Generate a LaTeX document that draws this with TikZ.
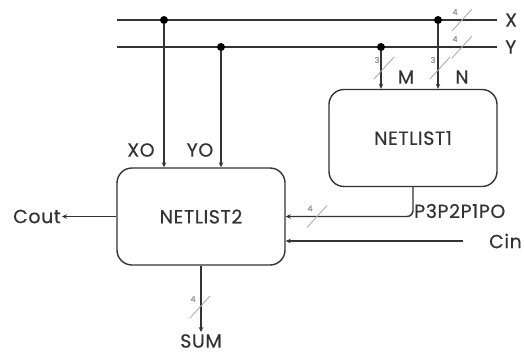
\documentclass[tikz,border=0pt]{standalone}
\usepackage{fontspec}
\setmainfont{Poppins}[LetterSpace=3,FakeBold=0.4]
\usepackage{tikz}
\usetikzlibrary{arrows.meta, positioning, calc}

\begin{document}
\begin{tikzpicture}[
    x=1pt,
    y=-1pt,
    wire/.style={draw=black!80, line width=1.4pt},
    arrowwire/.style={wire, -{Stealth[length=5pt,width=4.5pt]}},
    netbox/.style={rectangle, draw=black!80, line width=1.4pt, rounded corners=15pt, minimum width=168pt, minimum height=97pt, font=\fontsize{19}{21}\selectfont, text=black!80},
    sig/.style={font=\fontsize{19}{21}\selectfont, text=black!80, inner sep=1pt},
    dot/.style={circle, fill=black, inner sep=0pt, minimum size=8pt},
    busslash/.style={draw=black!35, line width=0.8pt},
    buslabel/.style={font=\fontsize{8}{9}\selectfont, text=black!45, inner sep=0pt}
]
\useasboundingbox (0,0) rectangle (524,356);

% Blocks
\node [netbox] (netA) at (413,138) {NETLIST1};
\node [netbox] (netB) at (201,216.5) {NETLIST2};

% X and Y buses
\coordinate (xl) at (117,20);
\coordinate (xr) at (497,20);
\coordinate (yl) at (117,47);
\coordinate (yr) at (497,47);
\draw [wire] (xl) -- (xr);
\draw [wire] (yl) -- (yr);
\node [sig, anchor=west] (xlab) at (504,20) {X};
\node [sig, anchor=west] (ylab) at (504,47) {Y};

% Taps
\node [dot] (xa) at (164,20) {};
\node [dot] (xb) at (438,20) {};
\node [dot] (ya) at (221,47) {};
\node [dot] (yb) at (381,47) {};
\draw [arrowwire] (xa) -- (xa |- netB.north);
\draw [arrowwire] (ya) -- (ya |- netB.north);
\draw [arrowwire] (yb) -- (yb |- netA.north);
\draw [arrowwire] (xb) -- (xb |- netA.north);
\node [sig] (xo) at (141,150) {XO};
\node [sig] (yo) at (200,150) {YO};
\node [sig] (mlab) at (406,77) {M};
\node [sig] (nlab) at (462,77) {N};

% NETLIST1 to NETLIST2
\draw [arrowwire, rounded corners=6pt] (netA.south) |- (netB.east);
\node [sig, anchor=west] (plab) at (413,211) {P3P2P1PO};

% Carry in and out
\coordinate (cin) at (463,241);
\draw [arrowwire] (cin) -- (cin -| netB.east);
\node [sig, anchor=east] (cinlab) at (523,241) {Cin};
\coordinate (cout) at (62,216.5);
\draw [arrowwire] (netB.west) -- (cout);
\node [sig, anchor=east] (coutlab) at (cout) {Cout};

% Sum
\coordinate (sum) at (netB.south |- 0,332);
\draw [arrowwire] (netB.south) -- (sum);
\node [sig, below=1pt of sum] (sumlab) {SUM};

% Bus width marks
\foreach \p/\w in {{462,20}/4, {462,47}/4, {384,68}/3, {440,68}/3, {317,216.5}/4, {200,307}/4} {
    \draw [busslash] ($(\p)+(-10,11)$) -- ($(\p)+(10,-11)$);
    \node [buslabel] at ($(\p)+(-7,-8)$) {\w};
}

\end{tikzpicture}
\end{document}
